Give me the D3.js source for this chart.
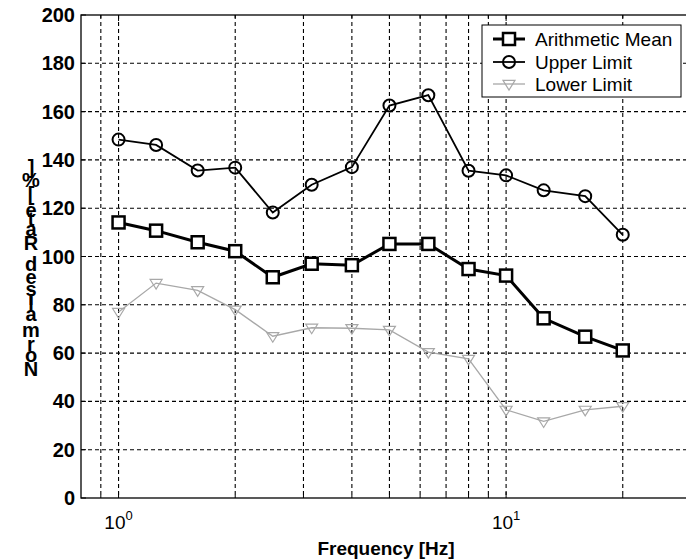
<!DOCTYPE html>
<html>
<head>
<meta charset="utf-8">
<script src="https://cdn.jsdelivr.net/npm/d3@7"></script>
<style>
  html, body { margin: 0; padding: 0; background: #fff; overflow: hidden; }
  svg { display: block; font-family: "Liberation Sans", Arial, sans-serif; }
</style>
</head>
<body>
<svg id="chart" width="686" height="560"></svg>
<script>
// ---- data ----
const frequencies = [1, 1.25, 1.6, 2, 2.5, 3.15, 4, 5, 6.3, 8, 10, 12.5, 16, 20];
const arithmeticMean = [114.1, 110.7, 105.9, 102.2, 91.4, 97.0, 96.4, 105.2, 105.2, 94.8, 92.1, 74.4, 66.8, 61.1];
const upperLimit = [148.4, 146.2, 135.6, 136.8, 118.2, 129.7, 137.0, 162.5, 166.8, 135.5, 133.6, 127.4, 125.0, 109.0];
const lowerLimit = [77.0, 89.0, 86.0, 78.0, 67.0, 70.5, 70.3, 69.6, 60.4, 57.6, 36.5, 31.7, 36.5, 38.0];
const yTicks = [0, 20, 40, 60, 80, 100, 120, 140, 160, 180, 200];
const xGrid = [0.9, 1, 2, 3, 4, 5, 6, 7, 8, 9, 10, 20];
const xMajor = [1, 10];
const seriesNames = ["Arithmetic Mean", "Upper Limit", "Lower Limit"];
const yLabel = "Normalised Rate [%]";
const xLabel = "Frequency [Hz]";

const svg = d3.select("#chart");
const x = d3.scaleLog().domain([0.8, 30]).range([81, 691]);
const y = d3.scaleLinear().domain([0, 200]).range([498, 15]);
const L = 81, R = 691, T = 15, B = 498;

// gridlines
const grid = svg.append("g").attr("stroke", "#000").attr("stroke-width", 1.1).attr("stroke-dasharray", "4,3");
grid.selectAll(".gh").data(yTicks.filter(d => d > 0 && d < 200)).join("line")
  .attr("x1", L).attr("x2", R).attr("y1", d => y(d)).attr("y2", d => y(d));
grid.selectAll(".gv").data(xGrid).join("line")
  .attr("x1", d => x(d)).attr("x2", d => x(d)).attr("y1", T).attr("y2", B);

// axes box
svg.append("rect").attr("x", L).attr("y", T).attr("width", R - L).attr("height", B - T)
  .attr("fill", "none").attr("stroke", "#000").attr("stroke-width", 1.3);

// ticks (inward)
const tk = svg.append("g").attr("stroke", "#000").attr("stroke-width", 1);
tk.selectAll(".yt").data(yTicks).join("line")
  .attr("x1", L).attr("x2", L + 5).attr("y1", d => y(d)).attr("y2", d => y(d));
tk.selectAll(".xb").data(xGrid).join("line")
  .attr("x1", d => x(d)).attr("x2", d => x(d)).attr("y1", B).attr("y2", d => B - (xMajor.includes(d) ? 6 : 3));
tk.selectAll(".xt").data(xGrid).join("line")
  .attr("x1", d => x(d)).attr("x2", d => x(d)).attr("y1", T).attr("y2", d => T + (xMajor.includes(d) ? 6 : 3));

// y tick labels
svg.append("g").selectAll("text").data(yTicks).join("text")
  .attr("x", 75).attr("y", d => y(d) + 7)
  .attr("text-anchor", "end").attr("font-size", 20).attr("font-weight", "bold")
  .text(d => d);

// x tick labels 10^n
const xt = svg.append("g").selectAll("text").data(xMajor).join("text")
  .attr("x", d => x(d)).attr("y", 529)
  .attr("text-anchor", "middle").attr("font-size", 19);
xt.append("tspan").text("10");
xt.append("tspan").attr("dy", -9).attr("font-size", 13).text(d => Math.round(Math.log10(d)));

// x label
svg.append("text").attr("x", (L + R) / 2).attr("y", 555).attr("text-anchor", "middle")
  .attr("font-size", 19).attr("font-weight", "bold").text(xLabel);

// y label: upright glyphs stacked bottom-to-top
(function () {
  const fs = 20;
  const meas = svg.append("text").attr("font-size", fs).attr("font-weight", "bold").attr("x", -1000).attr("y", -1000);
  const chars = Array.from(yLabel);
  const widths = chars.map(c => { meas.text(c === " " ? "\u00a0" : c); return meas.node().getComputedTextLength() * 1.1; });
  meas.remove();
  const total = d3.sum(widths);
  const center = 270;
  const bottom = center + total / 2;
  const t = svg.append("text").attr("font-size", fs).attr("font-weight", "bold").attr("text-anchor", "middle");
  let acc = 0;
  chars.forEach((c, i) => {
    const mid = acc + widths[i] / 2;
    acc += widths[i];
    if (c === " ") return;
    t.append("tspan").attr("x", 31).attr("y", bottom - mid + fs * 0.36).text(c);
  });
})();

// series
const line = d3.line().x(d => x(d[0])).y(d => y(d[1]));
const meanPts = frequencies.map((f, i) => [f, arithmeticMean[i]]);
const upPts = frequencies.map((f, i) => [f, upperLimit[i]]);
const loPts = frequencies.map((f, i) => [f, lowerLimit[i]]);
const gray = "#a8a8a8";
const tri = (cx, cy, s) => `M${cx - s},${cy - s * 0.6}L${cx + s},${cy - s * 0.6}L${cx},${cy + s}Z`;

// lower
svg.append("path").datum(loPts).attr("d", line).attr("fill", "none").attr("stroke", gray).attr("stroke-width", 1.3);
svg.append("g").selectAll("path").data(loPts).join("path")
  .attr("d", d => tri(x(d[0]), y(d[1]), 6)).attr("fill", "none").attr("stroke", gray).attr("stroke-width", 1.2);

// upper
svg.append("path").datum(upPts).attr("d", line).attr("fill", "none").attr("stroke", "#000").attr("stroke-width", 1.8);
svg.append("g").selectAll("circle").data(upPts).join("circle")
  .attr("cx", d => x(d[0])).attr("cy", d => y(d[1])).attr("r", 6)
  .attr("fill", "none").attr("stroke", "#000").attr("stroke-width", 2);

// mean
svg.append("path").datum(meanPts).attr("d", line).attr("fill", "none").attr("stroke", "#000").attr("stroke-width", 3);
svg.append("g").selectAll("rect").data(meanPts).join("rect")
  .attr("x", d => x(d[0]) - 6).attr("y", d => y(d[1]) - 6).attr("width", 12).attr("height", 12)
  .attr("fill", "#fff").attr("stroke", "#000").attr("stroke-width", 2.5);

// legend
const lg = svg.append("g");
lg.append("rect").attr("x", 482).attr("y", 25).attr("width", 199).attr("height", 72)
  .attr("fill", "#fff").attr("stroke", "#000").attr("stroke-width", 1);
const rows = [39, 62, 84];
seriesNames.forEach((name, i) => {
  const ry = rows[i];
  if (i === 0) {
    lg.append("line").attr("x1", 493).attr("x2", 525).attr("y1", ry).attr("y2", ry).attr("stroke", "#000").attr("stroke-width", 3);
    lg.append("rect").attr("x", 503).attr("y", ry - 6).attr("width", 12).attr("height", 12).attr("fill", "#fff").attr("stroke", "#000").attr("stroke-width", 2.5);
  } else if (i === 1) {
    lg.append("line").attr("x1", 493).attr("x2", 525).attr("y1", ry).attr("y2", ry).attr("stroke", "#000").attr("stroke-width", 1.8);
    lg.append("circle").attr("cx", 509).attr("cy", ry).attr("r", 6).attr("fill", "none").attr("stroke", "#000").attr("stroke-width", 2);
  } else {
    lg.append("line").attr("x1", 493).attr("x2", 525).attr("y1", ry).attr("y2", ry).attr("stroke", gray).attr("stroke-width", 1.3);
    lg.append("path").attr("d", tri(509, ry, 6)).attr("fill", "none").attr("stroke", gray).attr("stroke-width", 1.2);
  }
  lg.append("text").attr("x", 535).attr("y", ry + 7).attr("font-size", 19).text(name);
});
</script>
</body>
</html>
